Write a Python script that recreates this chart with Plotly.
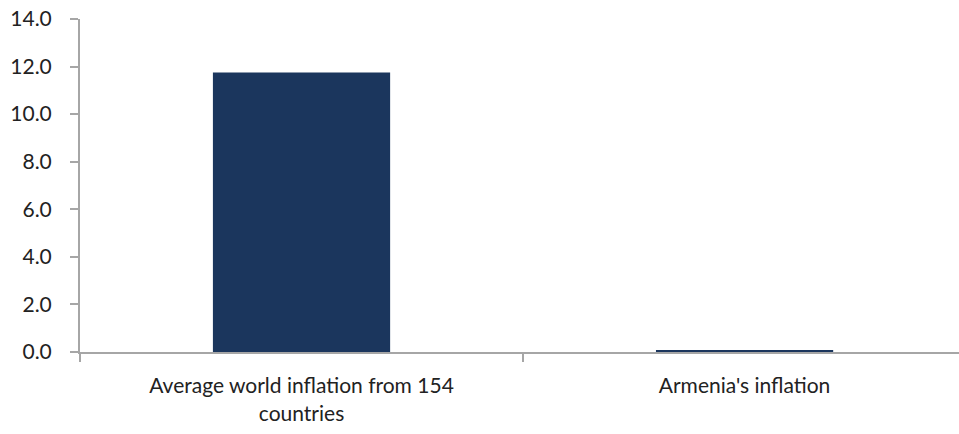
import plotly.graph_objects as go

categories = ["Average world inflation from 154<br>countries", "Armenia's inflation"]
values = [11.75, 0.06]
y_ticks = [0, 2, 4, 6, 8, 10, 12, 14]

bar_color = "#1b365d"
axis_color = "#a6a6a6"
font_family = "Lato, 'Open Sans', sans-serif"
text_color = "#222222"

fig = go.Figure(
    go.Bar(
        x=categories,
        y=values,
        width=0.4,
        marker=dict(color=bar_color, line=dict(width=0)),
    )
)

fig.update_layout(
    width=959,
    height=434,
    margin=dict(l=80, r=0, t=19, b=82),
    paper_bgcolor="white",
    plot_bgcolor="white",
    showlegend=False,
    font=dict(family=font_family, size=21, color=text_color),
)

fig.update_xaxes(
    type="category",
    range=[-0.5, 1.484],
    showline=True,
    linecolor=axis_color,
    linewidth=2,
    ticks="outside",
    tickson="boundaries",
    ticklen=8,
    tickwidth=2,
    tickcolor=axis_color,
    showgrid=False,
    tickfont=dict(family=font_family, size=21, color=text_color),
    ticklabelstandoff=14,
    zeroline=False,
)

fig.update_yaxes(
    range=[0, 14],
    tickvals=y_ticks,
    tickformat=".1f",
    showline=True,
    linecolor=axis_color,
    linewidth=2,
    ticks="outside",
    ticklen=8,
    tickwidth=2,
    tickcolor=axis_color,
    showgrid=False,
    zeroline=False,
    ticklabelstandoff=14,
    tickfont=dict(family=font_family, size=21, color=text_color),
)

fig.write_html("out.html")
